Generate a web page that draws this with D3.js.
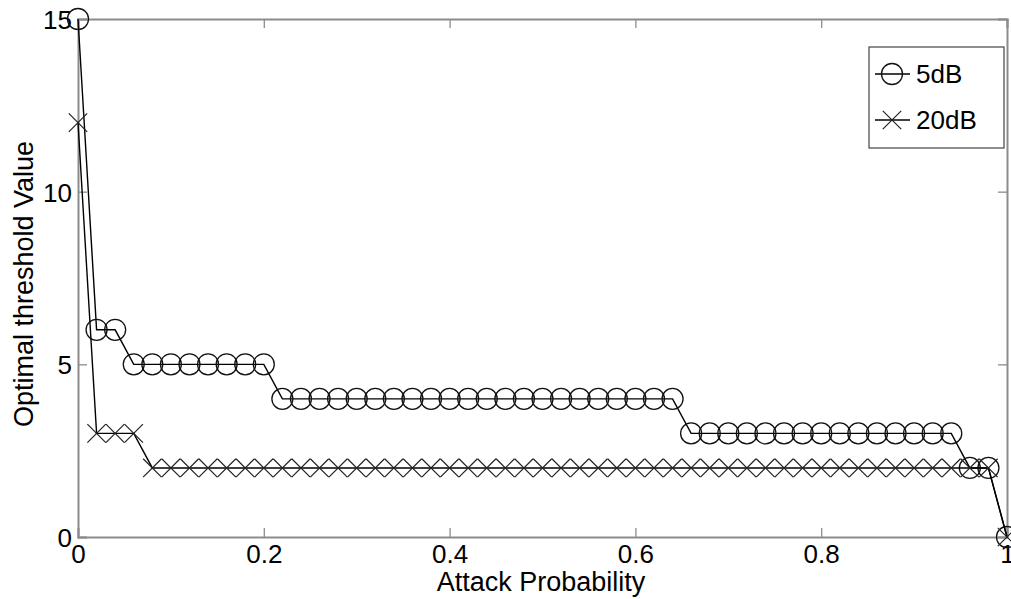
<!DOCTYPE html>
<html>
<head>
<meta charset="utf-8">
<script src="https://cdn.jsdelivr.net/npm/d3@7"></script>
<style>
  html, body { margin: 0; padding: 0; background: #fff; }
  svg { display: block; font-family: "Liberation Sans", Arial, sans-serif; }
</style>
</head>
<body>
<svg id="chart" width="1011" height="599"></svg>
<script>
// Attack probability sampled every 0.02 from 0 to 1
const attackProb = [
  0.00, 0.02, 0.04, 0.06, 0.08, 0.10, 0.12, 0.14, 0.16, 0.18,
  0.20, 0.22, 0.24, 0.26, 0.28, 0.30, 0.32, 0.34, 0.36, 0.38,
  0.40, 0.42, 0.44, 0.46, 0.48, 0.50, 0.52, 0.54, 0.56, 0.58,
  0.60, 0.62, 0.64, 0.66, 0.68, 0.70, 0.72, 0.74, 0.76, 0.78,
  0.80, 0.82, 0.84, 0.86, 0.88, 0.90, 0.92, 0.94, 0.96, 0.98, 1.00
];

// Optimal threshold at SNR = 5 dB
const threshold5dB = [
  15, 6, 6, 5, 5, 5, 5, 5, 5, 5,
  5, 4, 4, 4, 4, 4, 4, 4, 4, 4,
  4, 4, 4, 4, 4, 4, 4, 4, 4, 4,
  4, 4, 4, 3, 3, 3, 3, 3, 3, 3,
  3, 3, 3, 3, 3, 3, 3, 3, 2, 2, 0
];

// Optimal threshold at SNR = 20 dB
const threshold20dB = [
  12, 3, 3, 3, 2, 2, 2, 2, 2, 2,
  2, 2, 2, 2, 2, 2, 2, 2, 2, 2,
  2, 2, 2, 2, 2, 2, 2, 2, 2, 2,
  2, 2, 2, 2, 2, 2, 2, 2, 2, 2,
  2, 2, 2, 2, 2, 2, 2, 2, 2, 2, 0
];

const xTicks = [0, 0.2, 0.4, 0.6, 0.8, 1];
const yTicks = [0, 5, 10, 15];
const seriesNames = ["5dB", "20dB"];

const svg = d3.select("#chart");
const plotLeft = 78, plotRight = 1007, plotTop = 19, plotBottom = 537;

const x = d3.scaleLinear().domain([0, 1]).range([plotLeft, plotRight]);
const y = d3.scaleLinear().domain([0, 15]).range([plotBottom, plotTop]);

const axisColor = "#8c8c8c";
const tickLen = 9;
const fontSize = 26;

// Inward ticks on all four sides
const fmt = d => (d === 0 || d === 1) ? String(d) : d3.format(".1f")(d);

const gx = svg.append("g").attr("transform", `translate(0,${plotBottom})`)
  .call(d3.axisBottom(x).tickValues(xTicks).tickSize(-tickLen).tickPadding(8).tickFormat(fmt));
const gxTop = svg.append("g").attr("transform", `translate(0,${plotTop})`)
  .call(d3.axisTop(x).tickValues(xTicks).tickSize(-tickLen).tickFormat(""));
const gy = svg.append("g").attr("transform", `translate(${plotLeft},0)`)
  .call(d3.axisLeft(y).tickValues(yTicks).tickSize(-tickLen).tickPadding(6).tickFormat(d3.format("d")));
const gyR = svg.append("g").attr("transform", `translate(${plotRight},0)`)
  .call(d3.axisRight(y).tickValues(yTicks).tickSize(-tickLen).tickFormat(""));

[gx, gxTop, gy, gyR].forEach(g => {
  g.select(".domain").attr("stroke", axisColor).attr("stroke-width", 2);
  g.selectAll(".tick line").attr("stroke", axisColor).attr("stroke-width", 1.3);
  g.selectAll(".tick text").attr("fill", "#000").style("font-size", fontSize + "px")
    .style("font-family", "'Liberation Sans', Arial, sans-serif");
});
// bottom labels: cap top just under the axis
gx.selectAll(".tick text").attr("y", 0).attr("dy", 0)
  .attr("transform", "translate(0,26)");
gy.selectAll(".tick text").attr("dy", "0.36em");

// Axis titles
svg.append("text")
  .attr("x", 541).attr("y", 591)
  .attr("text-anchor", "middle")
  .style("font-size", "27px")
  .text("Attack Probability");

svg.append("text")
  .attr("transform", `translate(33,${(plotTop + plotBottom) / 2 + 6}) rotate(-90)`)
  .attr("text-anchor", "middle")
  .style("font-size", "27px")
  .text("Optimal threshold Value");

const line = d3.line().x(d => x(d[0])).y(d => y(d[1]));
const pts5 = attackProb.map((p, i) => [p, threshold5dB[i]]);
const pts20 = attackProb.map((p, i) => [p, threshold20dB[i]]);

const plot = svg.append("g");
const circleR = 10.5, crossR = 9.2;

function crossPath(cx, cy, r) {
  return `M${cx - r},${cy - r}L${cx + r},${cy + r}M${cx - r},${cy + r}L${cx + r},${cy - r}`;
}

// 5 dB: solid line with open circles
plot.append("path").datum(pts5).attr("d", line)
  .attr("fill", "none").attr("stroke", "#000").attr("stroke-width", 1.4);
plot.selectAll("circle.m5").data(pts5).join("circle")
  .attr("class", "m5")
  .attr("cx", d => x(d[0])).attr("cy", d => y(d[1])).attr("r", circleR)
  .attr("fill", "none").attr("stroke", "#111").attr("stroke-width", 1.3);

// 20 dB: solid line with crosses
plot.append("path").datum(pts20).attr("d", line)
  .attr("fill", "none").attr("stroke", "#000").attr("stroke-width", 1.4);
plot.selectAll("path.m20").data(pts20).join("path")
  .attr("class", "m20")
  .attr("d", d => crossPath(x(d[0]), y(d[1]), crossR))
  .attr("fill", "none").attr("stroke", "#222").attr("stroke-width", 1.2);

// Legend
const lg = svg.append("g");
lg.append("rect").attr("x", 869).attr("y", 47).attr("width", 135).attr("height", 101)
  .attr("fill", "#fff").attr("stroke", "#444").attr("stroke-width", 1.2);
const legendRows = [74, 120];
seriesNames.forEach((name, i) => {
  const ly = legendRows[i];
  lg.append("line").attr("x1", 875).attr("x2", 910).attr("y1", ly).attr("y2", ly)
    .attr("stroke", "#000").attr("stroke-width", 1.3);
  if (i === 0) {
    lg.append("circle").attr("cx", 892).attr("cy", ly).attr("r", circleR)
      .attr("fill", "none").attr("stroke", "#111").attr("stroke-width", 1.3);
  } else {
    lg.append("path").attr("d", crossPath(892, ly, crossR))
      .attr("fill", "none").attr("stroke", "#222").attr("stroke-width", 1.2);
  }
  lg.append("text").attr("x", 916).attr("y", ly).attr("dy", "0.36em")
    .style("font-size", "26px").text(name);
});
</script>
</body>
</html>
